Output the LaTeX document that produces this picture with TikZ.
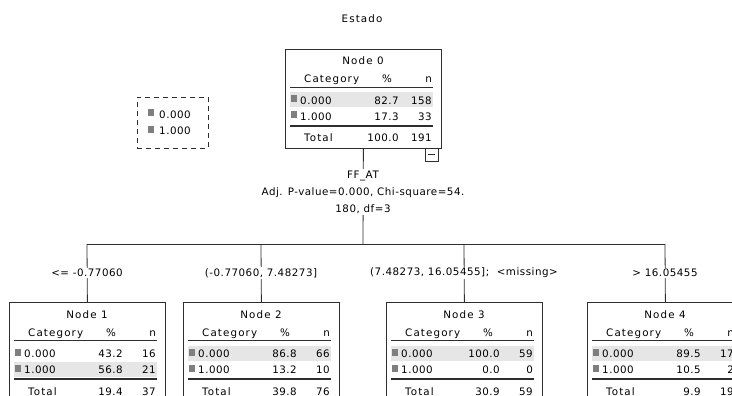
\documentclass[tikz,border=0pt]{standalone}
\usepackage{fontspec}
\setmainfont{DejaVu Sans}[LetterSpace=5]
\newfontfamily\widefont{DejaVu Sans}[LetterSpace=11]
\definecolor{linec}{HTML}{2E2E2E}
\definecolor{bandc}{HTML}{E6E6E6}
\definecolor{sqc}{HTML}{7F7F7F}
\tikzset{
  boxst/.style={draw=linec, line width=0.8pt, minimum width=156pt, minimum height=99pt, anchor=north west, inner sep=0pt},
  hd/.style={inner sep=0pt, font=\widefont\fontsize{10.3}{12}\selectfont},
  val/.style={inner sep=0pt},
  rule/.style={draw=linec, line width=0.7pt},
  dbl/.style={draw=linec, line width=1.8pt},
  conn/.style={draw=linec, line width=0.8pt},
  lab/.style={fill=white, inner sep=1.5pt},
  sq/.style={fill=sqc}
}
\newcommand\totalrow[3]{%
  \node[hd, anchor=base west] (n#1tt) at (19,93) {Total};
  \node[val, anchor=base east] (n#1tp) at (114,93) {#2};
  \node[val, anchor=base east] (n#1tn) at (147,93) {#3};}
\newcommand\treebox[9]{%
  \node[boxst] (n#1) at (#2,#3) {};
  \begin{scope}[shift={(#2,#3)}]
    \fill[bandc] (5,#4-7.5) rectangle (148,#4+7.5);
    \node[hd, anchor=base] (n#1t) at (78,16) {Node #1};
    \node[hd, anchor=base west] (n#1c) at (19,34) {Category};
    \node[hd, anchor=base] (n#1p) at (102,34) {\%};
    \node[hd, anchor=base east] (n#1n) at (147,34) {n};
    \draw[rule] (5,38.5) -- (148,38.5);
    \fill[sq] (6,46.5) rectangle (12,53.5);
    \node[val, anchor=base west] (n#1a) at (15,55.5) {0.000};
    \node[val, anchor=base east] (n#1ap) at (114,55.5) {#5};
    \node[val, anchor=base east] (n#1an) at (147,55.5) {#6};
    \fill[sq] (6,62.5) rectangle (12,69.5);
    \node[val, anchor=base west] (n#1b) at (15,71.5) {1.000};
    \node[val, anchor=base east] (n#1bp) at (114,71.5) {#7};
    \node[val, anchor=base east] (n#1bn) at (147,71.5) {#8};
    \draw[dbl] (5,77) -- (148,77);
    \totalrow{#1}#9
  \end{scope}}
\begin{document}
\begin{tikzpicture}[x=1pt, y=-1pt, font=\fontsize{10.3}{12}\selectfont]
\useasboundingbox (0,0) rectangle (732,396);
\clip (0,0) rectangle (732,396);
\node[inner sep=0pt, font=\widefont\fontsize{10.3}{12}\selectfont] (title) at (362,19) {Estado};
% legend
\node[draw=linec, dashed, dash pattern=on 5pt off 4pt, line width=0.8pt, minimum width=71pt, minimum height=51pt, anchor=north west, inner sep=0pt] (legend) at (137,97) {};
\fill[sq] (148,109.5) rectangle (154,116.5);
\node[val, anchor=base west] (lega) at (159,118) {0.000};
\fill[sq] (148,126.5) rectangle (154,133.5);
\node[val, anchor=base west] (legb) at (159,135) {1.000};
% root
\treebox{0}{285}{49}{51}{82.7}{158}{17.3}{33}{{100.0}{191}}
\node[draw=linec, line width=0.8pt, minimum size=13pt, inner sep=0pt, anchor=north west] (mb) at (425,148) {};
\draw[conn] ([xshift=-3.5pt]mb.center) -- ([xshift=3.5pt]mb.center);
% children
\treebox{1}{9}{302}{67}{43.2}{16}{56.8}{21}{{19.4}{37}}
\treebox{2}{183}{302}{51}{86.8}{66}{13.2}{10}{{39.8}{76}}
\treebox{3}{386}{302}{51}{100.0}{59}{0.0}{0}{{30.9}{59}}
\treebox{4}{587}{302}{51}{89.5}{17}{10.5}{2}{{9.9}{19}}
% connectors
\coordinate (b0) at (363,244);
\coordinate (b1) at (87,244);
\coordinate (b2) at (261,244);
\coordinate (b3) at (464,244);
\coordinate (b4) at (665,244);
\draw[conn] (n0.south) -- (b0);
\draw[conn] (b1) -- (b4);
\draw[conn] (b1) -- (n1.north);
\draw[conn] (b2) -- (n2.north);
\draw[conn] (b3) -- (n3.north);
\draw[conn] (b4) -- (n4.north);
\node[lab, align=center, font=\fontsize{10.3}{17}\selectfont] (split) at (363,192) {FF\_AT\\Adj. P-value=0.000, Chi-square=54.\\180, df=3};
\node[lab] (l1) at (87,273) {<= -0.77060};
\node[lab] (l2) at (261,273) {(-0.77060, 7.48273]};
\node[lab] (l3) at (464,273) {(7.48273, 16.05455];\ \ <missing>};
\node[lab] (l4) at (665,273) {> 16.05455};
\end{tikzpicture}
\end{document}
